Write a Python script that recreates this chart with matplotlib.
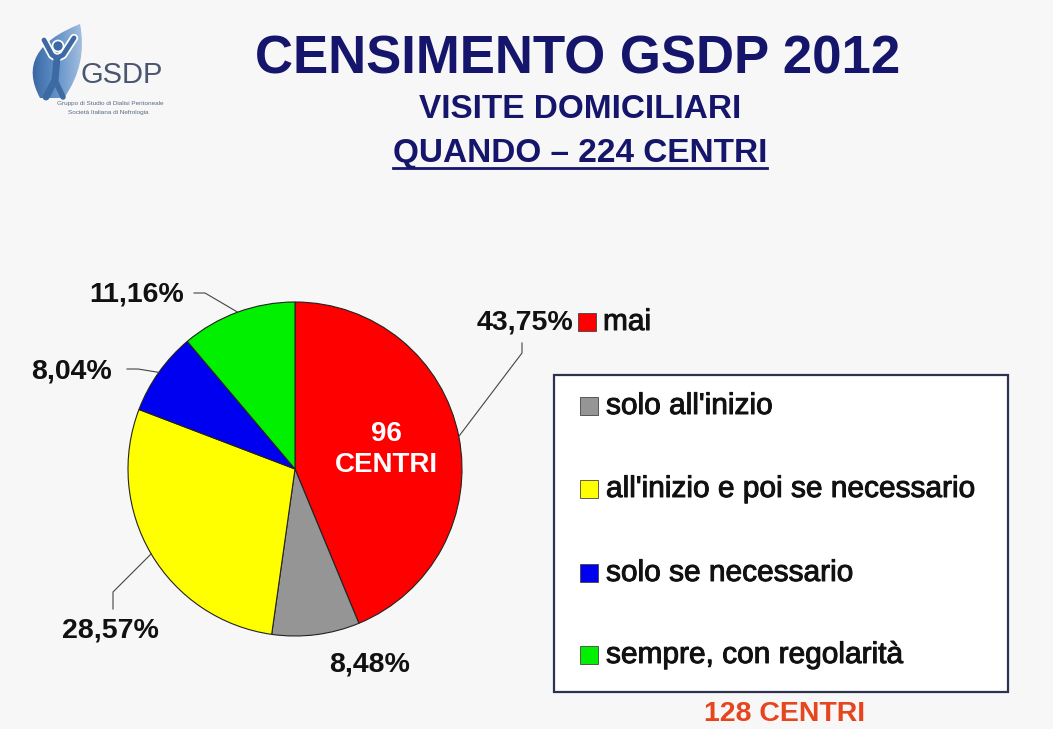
import numpy as np
import matplotlib
matplotlib.use("Agg")
import matplotlib.pyplot as plt
import matplotlib.patheffects as pe
from matplotlib.patches import Rectangle, PathPatch, Circle
from matplotlib.path import Path

# Survey data: when home visits are done (224 centres)
categories = ["mai", "solo all'inizio", "all'inizio e poi se necessario",
              "solo se necessario", "sempre, con regolarità"]
percentages = [43.75, 8.48, 28.57, 8.04, 11.16]
slice_colors = ["#ff0000", "#959595", "#ffff00", "#0000f0", "#00f000"]
never_count = "96\nCENTRI"
other_count = "128 CENTRI"

W, H = 1053, 729
plt.rcParams["font.family"] = ["Liberation Sans", "DejaVu Sans"]

fig = plt.figure(figsize=(W / 100, H / 100), dpi=100, facecolor="#f7f7f7")
ax = fig.add_axes([0, 0, 1, 1])
ax.set_xlim(0, W)
ax.set_ylim(H, 0)
ax.axis("off")
ax.set_facecolor("#f7f7f7")

navy = "#15156b"
heavy = [pe.withStroke(linewidth=0.7, foreground="#111111")]

# ---- logo ----
leaf = Path([(40, 98), (14, 50), (80, 24), (88, 64), (64, 98), (40, 98)],
            [Path.MOVETO, Path.CURVE3, Path.CURVE3, Path.CURVE3, Path.CURVE3,
             Path.CLOSEPOLY])
leaf_patch = PathPatch(leaf, facecolor="none", edgecolor="none")
ax.add_patch(leaf_patch)
grad = np.linspace(0, 1, 100).reshape(1, -1)
leaf_cmap = matplotlib.colors.LinearSegmentedColormap.from_list(
    "leaf", ["#2c5a98", "#5f8fc6", "#a9c3e2"])
img = ax.imshow(grad, extent=(25, 85, 100, 22), cmap=leaf_cmap,
                aspect="auto", zorder=1)
img.set_clip_path(leaf_patch)
ax.set_xlim(0, W)
ax.set_ylim(H, 0)
# figure with raised arms
fig_col = "#3d6aa3"
ax.plot([44, 52, 57, 63, 74], [40, 55, 58, 55, 38], color="white", lw=6,
        solid_capstyle="round", zorder=2)
ax.plot([44, 52, 57, 63, 74], [40, 55, 58, 55, 38], color=fig_col, lw=3.5,
        solid_capstyle="round", zorder=3)
ax.plot([57, 55, 46], [58, 80, 97], color=fig_col, lw=5, solid_capstyle="round", zorder=3)
ax.plot([55, 63], [80, 97], color=fig_col, lw=4, solid_capstyle="round", zorder=3)
ax.add_patch(Circle((58, 46), 5.5, facecolor=fig_col, edgecolor="white", lw=1.2, zorder=3))
ax.text(80, 83, "GSDP", fontsize=21, color="#4a5670", ha="left", va="baseline")
ax.text(110, 103, "Gruppo di Studio di Dialisi Peritoneale", fontsize=4.6,
        color="#5a6a88", ha="center", va="center")
ax.text(108, 112, "Società Italiana di Nefrologia", fontsize=4.6,
        color="#5a6a88", ha="center", va="center")

# ---- titles ----
ax.text(578, 59, "CENSIMENTO GSDP 2012", fontsize=38, fontweight="bold",
        color=navy, ha="center", va="center")
ax.text(580, 109, "VISITE DOMICILIARI", fontsize=24, fontweight="bold",
        color=navy, ha="center", va="center")
sub = ax.text(580, 153, "QUANDO – 224 CENTRI", fontsize=24, fontweight="bold",
              color=navy, ha="center", va="center")

# ---- pie ----
center = (295, 469)
radius = 167
wedges, _ = ax.pie(percentages, colors=slice_colors, startangle=-90,
                   counterclock=True, center=center, radius=radius,
                   wedgeprops=dict(edgecolor="#222222", linewidth=0.8))
ax.set_xlim(0, W)
ax.set_ylim(H, 0)
ax.set_aspect("auto")

ax.text(386, 449, never_count, fontsize=20, fontweight="bold", color="white",
        ha="center", va="center", linespacing=1.25)

# label anchor (text centre), leader start, leader elbow
label_pos = [(525, 322), (370, 665), (110, 631), (72, 371), (137, 294)]
leader = [((522, 343), (522, 353)), None, ((113, 609), (113, 592)),
          ((127, 369), (138, 369)), ((194, 293), (205, 293))]

for w, v, pos, ld in zip(wedges, percentages, label_pos, leader):
    txt = f"{v:.2f}".replace(".", ",") + "%"
    ax.text(pos[0], pos[1], txt, fontsize=20.5, fontweight="bold",
            color="#111111", ha="center", va="center")
    if ld is not None:
        mid = np.deg2rad((w.theta1 + w.theta2) / 2)
        ex = center[0] + radius * np.cos(mid)
        ey = center[1] + radius * np.sin(mid)
        ax.plot([ld[0][0], ld[1][0], ex], [ld[0][1], ld[1][1], ey],
                color="#444444", lw=0.8, zorder=4)

# ---- legend ----
sq = 18
ax.add_patch(Rectangle((578, 313), sq, sq, facecolor=slice_colors[0],
                       edgecolor="#444444", lw=0.6))
ax.text(603, 322, categories[0], fontsize=21.5, color="#111111",
        ha="left", va="center", path_effects=heavy)

ax.add_patch(Rectangle((554, 375), 454, 317, facecolor="white",
                       edgecolor="#2b3350", lw=1.6, zorder=1))
entry_y = [406, 489, 573, 655]
for c, col, y in zip(categories[1:], slice_colors[1:], entry_y):
    ax.add_patch(Rectangle((580, y - sq / 2), sq, sq, facecolor=col,
                           edgecolor="#444444", lw=0.6, zorder=2))
    ax.text(606, y, c, fontsize=21.5, color="#111111", ha="left",
            va="center", zorder=2, path_effects=heavy)

ax.text(785, 714, other_count, fontsize=20.5, fontweight="bold",
        color="#e6451e", ha="center", va="center")

# underline the subtitle
fig.canvas.draw()
bb = sub.get_window_extent(fig.canvas.get_renderer())
inv = ax.transData.inverted()
(x0, _), (x1, _) = inv.transform([(bb.x0, bb.y0), (bb.x1, bb.y0)])
ax.plot([x0, x1], [168, 168], color=navy, lw=2)

fig.savefig("out.png", dpi=100, facecolor=fig.get_facecolor())
